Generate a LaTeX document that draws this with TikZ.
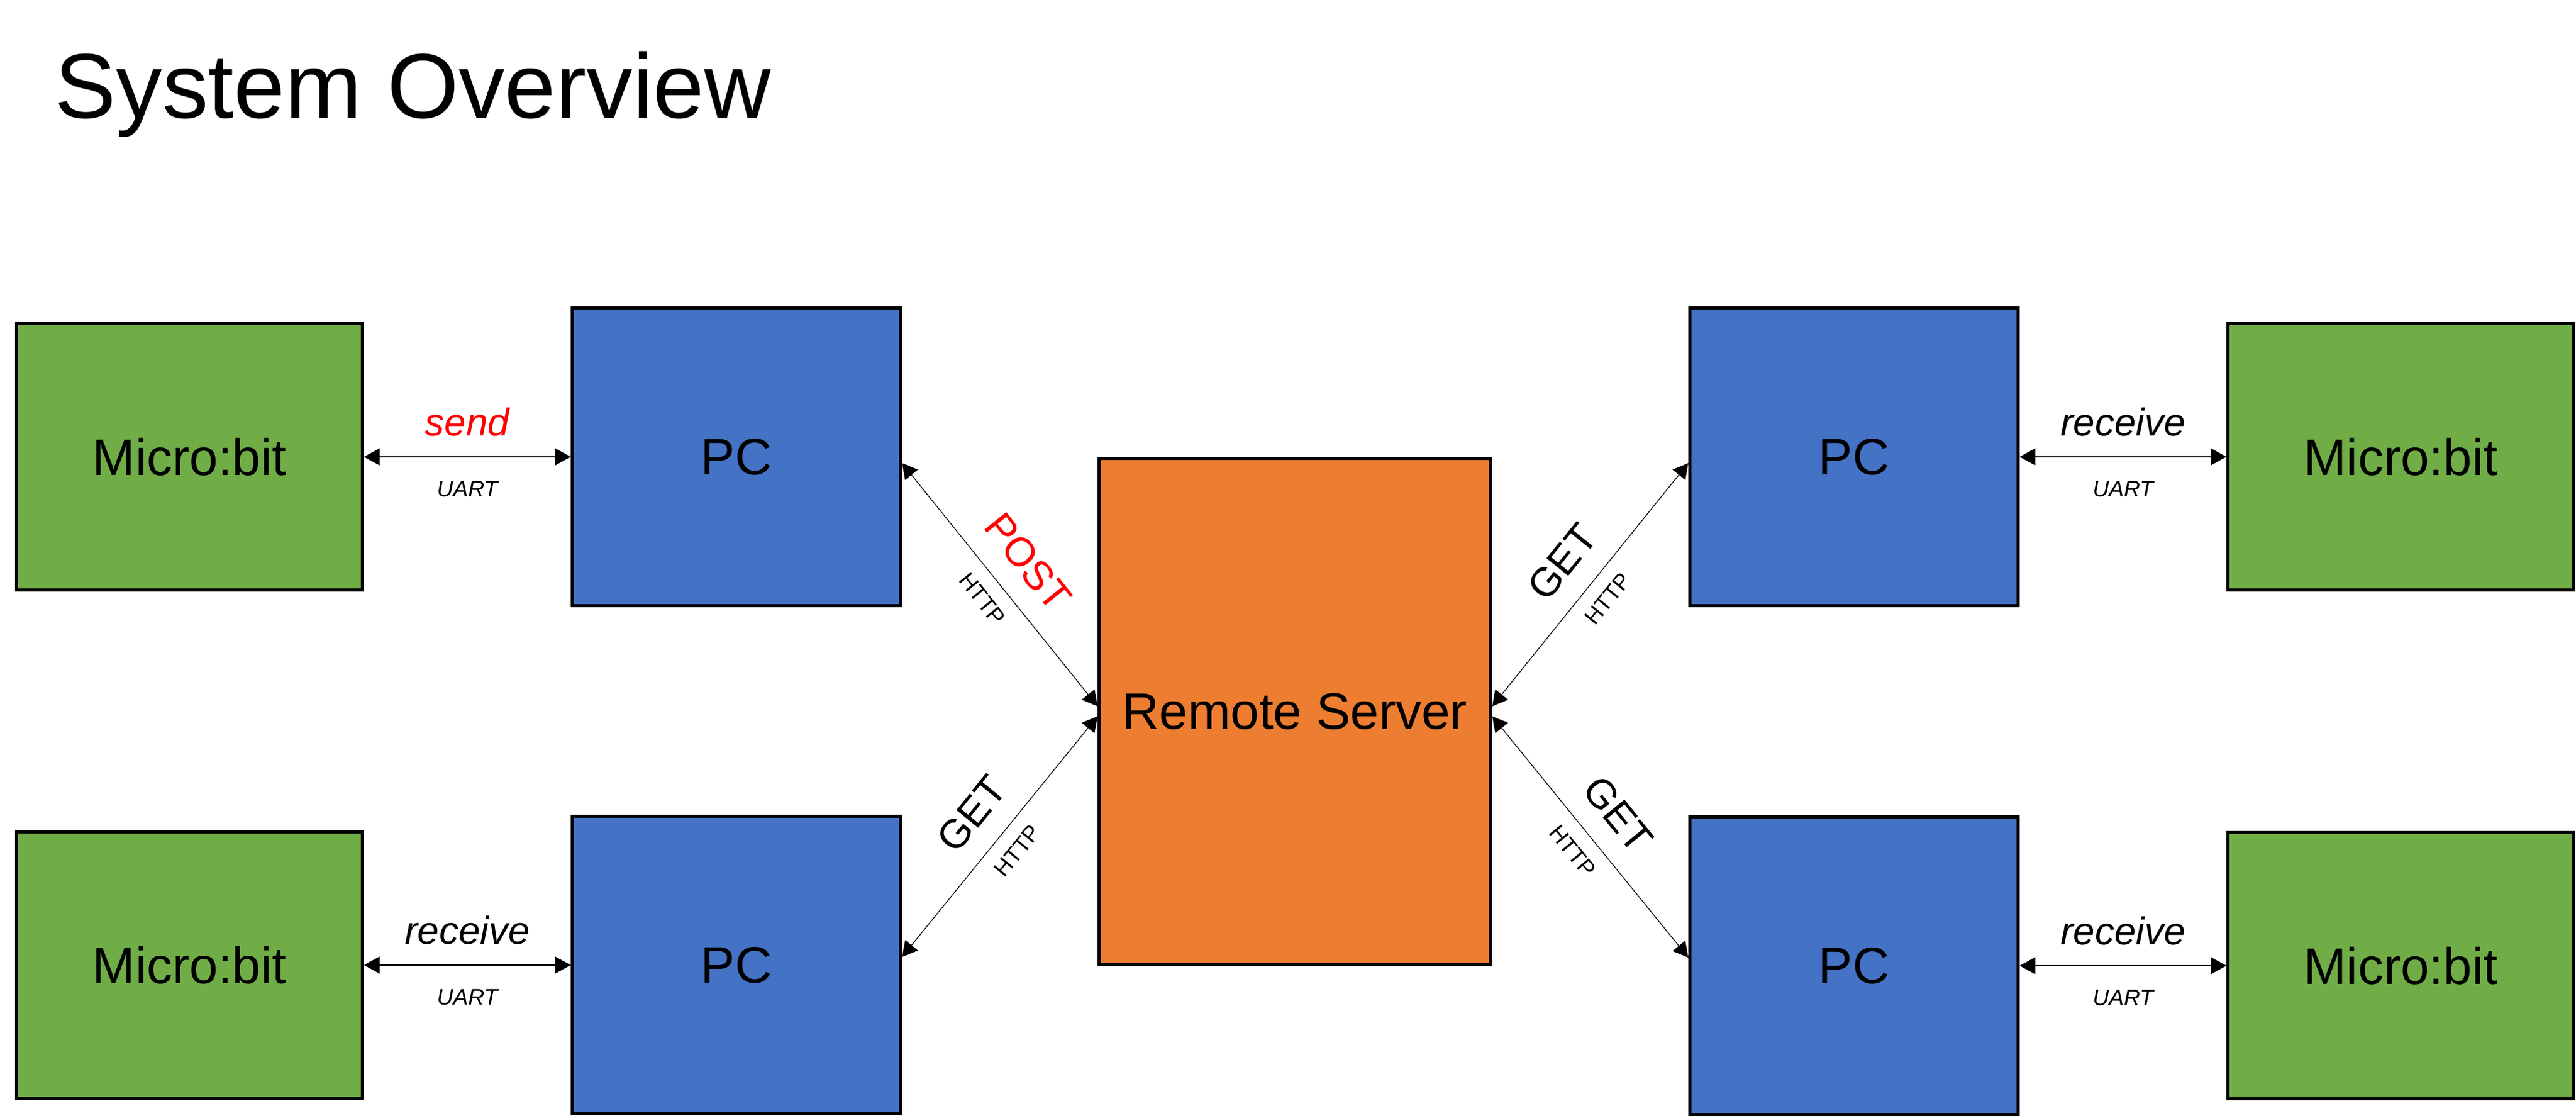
\documentclass[tikz,border=0pt]{standalone}
\usepackage{fontspec}
\setmainfont{Liberation Sans}
\usepackage{xcolor}
\usepackage{tikz}
\usetikzlibrary{positioning, arrows.meta}
\definecolor{microGreen}{HTML}{70AD47}
\definecolor{pcBlue}{HTML}{4472C4}
\definecolor{serverOrange}{HTML}{ED7D31}
\tikzset{
    device/.style={rectangle, draw=black, line width=1.4pt, align=center, inner sep=0pt, font=\fontsize{23.3}{28}\selectfont},
    micro/.style={device, fill=microGreen, minimum width=5.52cm, minimum height=4.25cm},
    pc/.style={device, fill=pcBlue, minimum width=5.24cm, minimum height=4.75cm},
    server/.style={device, fill=serverOrange, minimum width=6.25cm, minimum height=8.07cm},
    uart/.style={{Triangle[length=2.5mm, width=2.7mm]}-{Triangle[length=2.5mm, width=2.7mm]}, line width=0.5pt},
    http/.style={{Triangle[length=2.4mm, width=2.6mm]}-{Triangle[length=2.4mm, width=2.6mm]}, line width=0.35pt},
    action/.style={font=\fontsize{17.6}{21}\selectfont\itshape, inner sep=0pt},
    method/.style={font=\fontsize{18.5}{22}\selectfont, inner sep=0pt},
    uartText/.style={font=\fontsize{10.2}{12}\selectfont\itshape, inner sep=0pt},
    httpText/.style={font=\fontsize{10.2}{12}\selectfont, inner sep=0pt}
}

\begin{document}
\begin{tikzpicture}
    \useasboundingbox (0,0) rectangle (41.12,17.84);

    % Title
    \node[anchor=base west, inner sep=0pt, font=\fontsize{41.8}{50}\selectfont] (title) at (0.87,15.95) {System Overview};

    % Server and PCs
    \node[server] (srv) at (20.67,6.49) {Remote Server};
    \node[pc] (pcA) at (11.755,10.55) {PC};
    \node[pc] (pcB) at (29.595,10.55) {PC};
    \node[pc] (pcC) at (11.755,2.44) {PC};
    \node[pc] (pcD) at (29.595,2.43) {PC};

    % Micro:bits
    \node[micro, left=3.3cm of pcA] (mbA) {Micro:bit};
    \node[micro, right=3.3cm of pcB] (mbB) {Micro:bit};
    \node[micro, left=3.3cm of pcC] (mbC) {Micro:bit};
    \node[micro, right=3.3cm of pcD] (mbD) {Micro:bit};

    % UART links
    \draw[uart] (mbA.east) -- (pcA.west) node[midway, above=0.32cm, action, text=red] {send} node[midway, below=0.38cm, uartText] {UART};
    \draw[uart] (pcB.east) -- (mbB.west) node[midway, above=0.32cm, action] {receive} node[midway, below=0.38cm, uartText] {UART};
    \draw[uart] (mbC.east) -- (pcC.west) node[midway, above=0.32cm, action] {receive} node[midway, below=0.38cm, uartText] {UART};
    \draw[uart] (pcD.east) -- (mbD.west) node[midway, above=0.32cm, action] {receive} node[midway, below=0.38cm, uartText] {UART};

    % HTTP links
    \draw[http] ([yshift=-0.1cm]pcA.east) -- ([yshift=0.08cm]srv.west) node[midway, sloped, above=0.34cm, method, text=red] {POST} node[midway, sloped, below=0.23cm, httpText] {HTTP};
    \draw[http] ([yshift=0.13cm]pcC.east) -- ([yshift=-0.08cm]srv.west) node[midway, sloped, above=0.34cm, method] {GET} node[midway, sloped, below=0.23cm, httpText] {HTTP};
    \draw[http] ([yshift=0.08cm]srv.east) -- ([yshift=-0.1cm]pcB.west) node[midway, sloped, above=0.34cm, method] {GET} node[midway, sloped, below=0.23cm, httpText] {HTTP};
    \draw[http] ([yshift=-0.08cm]srv.east) -- ([yshift=0.13cm]pcD.west) node[midway, sloped, above=0.34cm, method] {GET} node[midway, sloped, below=0.23cm, httpText] {HTTP};
\end{tikzpicture}
\end{document}
